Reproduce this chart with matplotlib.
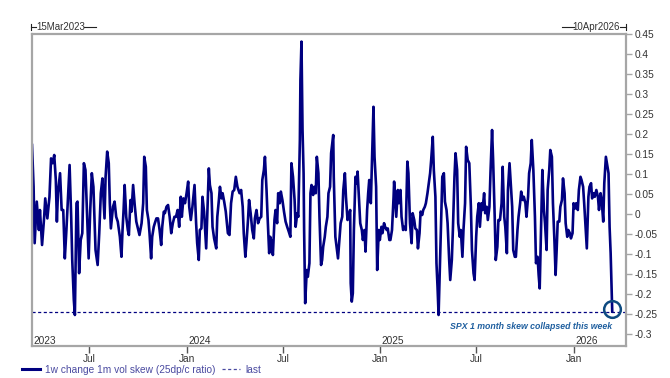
import numpy as np
import pandas as pd
import matplotlib
matplotlib.use("Agg")
import matplotlib.pyplot as plt
import matplotlib.dates as mdates
from matplotlib.lines import Line2D

plt.rcParams['font.family'] = ['Liberation Sans', 'DejaVu Sans']

# ---------------- data ----------------
start_date = "2023-03-15"
end_date = "2026-04-10"
day_offset = [
    0, 3, 5, 9, 13, 15, 19, 23, 25, 29, 33, 36, 39, 42, 45, 47, 49, 53, 56, 59, 62, 65, 68, 71, 74, 76, 79, 81, 84, 86,
    89, 92, 95, 98, 101, 105, 107, 110, 113, 116, 120, 124, 127, 130, 133,
    137, 139, 142, 145, 147, 149, 153, 156, 159, 162, 166, 169, 171, 173, 175, 178, 181, 183, 186, 188, 191, 194, 197,
    200, 203, 207, 210, 212, 215, 217, 220, 222, 225, 227, 230, 232, 235, 238, 241, 244, 246, 249, 251, 254, 257, 260,
    263, 266, 269,
    272, 275, 278, 281, 283, 286, 289, 292, 295, 297, 300, 303, 307, 310, 312, 315, 317, 320, 322, 325, 329, 331, 334,
    336, 339, 341, 344, 348, 350, 353, 355, 358, 360, 363, 366, 370, 373, 376, 379, 382, 385, 388, 392, 395, 398, 400,
    403, 405, 408,
    410, 413, 416, 419, 421, 424, 427, 430, 433, 435, 438, 440, 443, 445, 448, 450, 453, 455, 458, 460, 463, 465, 468,
    470, 473, 476, 479, 482, 485, 488, 490, 493, 496, 498, 501, 503, 506, 507, 509, 511, 513, 514, 516, 519, 521, 524,
    526, 528, 531, 533, 536, 538, 541, 543, 546,
    548, 550, 553, 555, 558, 560, 563, 565, 569, 570, 573, 576, 578, 581, 583, 586, 588, 591, 593, 596, 598, 601, 602,
    604, 606, 608, 611, 613, 615, 618, 620, 623, 625, 628, 630, 633, 635, 637, 640, 642, 645, 647, 650, 652, 655, 657,
    660, 662, 665, 667, 670, 672, 675, 677, 680, 683, 684,
    688, 691, 693, 696, 698, 701, 703, 706, 709, 711, 714, 717, 719, 722, 724, 727, 729, 732, 734, 737, 739, 742, 744,
    747, 749, 752, 754, 757, 759, 762, 764, 766, 768, 770, 773, 775, 778, 780, 783, 785, 788, 790, 793, 795, 798, 800,
    803, 805, 808, 810, 813, 815, 818, 820, 823,
    826, 829, 831, 834, 836, 839, 841, 844, 846, 849, 851, 854, 856, 859, 861, 864, 866, 869, 871, 874, 876, 879, 881,
    884, 887, 889, 892, 894, 897, 899, 902, 904, 907, 909, 912, 914, 917, 919, 922, 924, 927, 929, 932, 934, 937, 939,
    942, 944, 947, 950, 952, 955, 957, 959, 961,
    964, 967, 969, 972, 974, 977, 979, 982, 984, 987, 989, 991, 993, 996, 998, 1001, 1003, 1006, 1008, 1011, 1013,
    1016, 1018, 1021, 1023, 1026, 1028, 1031, 1033, 1036, 1038, 1041, 1043, 1046, 1048, 1051, 1053, 1056, 1058, 1061,
    1063, 1066, 1069, 1071, 1074, 1076, 1079, 1081, 1084, 1086, 1089, 1091, 1093, 1095, 1096,
]
skew_change = [
    0.1725, 0.068, -0.073, 0.031, -0.04, 0.01, -0.0775, -0.007, 0.039, -0.011, 0.043, 0.139, 0.127, 0.1475, 0.085,
    -0.019, 0.052, 0.102, 0.01, 0.01, -0.111, -0.04, 0.039, 0.1225, -0.007, -0.115, -0.215, -0.2525, 0.027, 0.031,
    -0.148, -0.065, -0.048, 0.127, 0.11, -0.04, -0.111, 0.01, 0.102, 0.068, -0.09, -0.1275, -0.048, 0.052, 0.089,
    -0.011, 0.093, 0.156, 0.127, 0.027, -0.036, 0.018, 0.031, -0.007, -0.019, -0.057, -0.107, -0.04, 0.01, 0.0725,
    -0.007, -0.04, -0.0525, 0.035, 0.006, 0.0725, 0.0225, -0.019, -0.036, -0.0525, -0.023, 0.027, 0.143, 0.118, 0.01,
    -0.015, -0.048, -0.111, -0.057, -0.032, -0.023, -0.011, -0.011, -0.04, -0.0775, -0.032, 0.006, 0.002, 0.018,
    0.0225, -0.007, -0.048, -0.023, -0.007,
    -0.007, 0.01, -0.032, 0.043, -0.007, 0.039, 0.027, 0.052, 0.081, 0.018, -0.015, 0.018, 0.0725, -0.023, -0.073,
    -0.115, -0.04, -0.036, 0.043, 0.006, -0.086, -0.007, 0.114, 0.0725, 0.052, -0.032, -0.061, -0.086, -0.007, 0.035,
    0.068, 0.039, 0.052, 0.031, 0.006, -0.048, -0.0525, 0.027, 0.056, 0.06, 0.093, 0.068, 0.052, 0.06, 0.018, -0.048,
    -0.107, -0.073, -0.015,
    0.035, 0.002, -0.04, -0.061, -0.011, 0.01, -0.023, -0.011, -0.007, 0.085, 0.11, 0.143, 0.06, -0.007, -0.098,
    -0.057, -0.073, -0.1025, -0.015, 0.01, -0.023, 0.052, 0.027, 0.056, 0.035, 0.006, -0.019, -0.032, -0.044, -0.057,
    0.127, 0.093, 0.035, -0.032, 0.002, -0.007, 0.185, 0.335, 0.431, 0.21, 0.102, -0.04, -0.223, -0.14, -0.157,
    -0.123, 0.052, 0.0725, 0.0475, 0.068, 0.052, 0.143, 0.102, -0.007, -0.1275,
    -0.115, -0.082, -0.057, -0.032, -0.007, 0.052, 0.068, 0.152, 0.1975, 0.093, -0.057, -0.09, -0.111, -0.057, -0.023,
    -0.007, 0.06, 0.102, 0.043, -0.015, -0.007, 0.01, -0.173, -0.219, -0.198, -0.04, 0.093, 0.077, 0.106, 0.027,
    -0.023, -0.04, -0.065, -0.04, -0.094, 0.01, 0.052, 0.085, 0.027, 0.127, 0.268, 0.143, 0.068, -0.14, -0.04, -0.065,
    -0.032, -0.048, -0.023, -0.032, -0.04, -0.036, -0.065, -0.065, -0.04, 0.043, 0.081,
    -0.007, 0.06, 0.027, 0.06, -0.007, -0.04, -0.032, -0.04, 0.131, 0.102, -0.023, -0.073, 0.002, -0.015, -0.036,
    -0.04, -0.086, -0.048, 0.006, -0.0025, 0.01, 0.018, 0.027, 0.052, 0.0725, 0.102, 0.135, 0.193, 0.11, 0.043,
    -0.123, -0.182, -0.2525, -0.157, -0.007, 0.093, 0.102, 0.031, 0.01, -0.023, -0.115, -0.165, -0.115, -0.04, 0.093,
    0.152, 0.11, -0.023, -0.057, -0.04, -0.107, -0.04, 0.027, 0.168, 0.135,
    0.127, 0.018, -0.09, -0.148, -0.165, -0.057, -0.007, 0.027, -0.032, 0.027, 0.01, 0.052, 0.002, 0.018, -0.015,
    0.018, 0.102, 0.21, 0.135, -0.007, -0.115, -0.082, -0.015, -0.015, 0.027, 0.118, -0.007, -0.032, -0.098, 0.06,
    0.127, 0.085, 0.018, -0.09, -0.107, -0.107, -0.04, -0.007, 0.027, 0.056, 0.035, 0.043, 0.027, -0.007, 0.043,
    0.102, 0.127, 0.185, 0.11, -0.007, -0.123, -0.107, -0.1525, -0.186, -0.065,
    0.11, 0.01, -0.023, -0.09, 0.06, 0.11, 0.16, 0.143, 0.027, -0.073, -0.1525, -0.09, -0.019, -0.019, 0.018, 0.035,
    0.089, 0.052, -0.023, -0.057, -0.04, -0.048, -0.061, -0.048, 0.027, 0.014, 0.027, 0.01, 0.06, 0.093, 0.085,
    0.068, 0.027, -0.04, -0.086, 0.043, 0.068, 0.077, 0.039, 0.052, 0.043, 0.06, 0.043, 0.01, 0.052, 0.035, -0.019,
    0.077, 0.143, 0.127, 0.102, -0.032, -0.098, -0.198, -0.244,
]
y_ticks = [0.45, 0.4, 0.35, 0.3, 0.25, 0.2, 0.15, 0.1, 0.05, 0, -0.05, -0.1, -0.15, -0.2, -0.25, -0.3]
y_limits = (-0.33, 0.45)
series_label = "1w change 1m vol skew (25dp/c ratio)"
last_label = "last"
note_text = "SPX 1 month skew collapsed this week"
start_label = "15Mar2023"
end_label = "10Apr2026"

# ---------------- figure ----------------
W, H = 670, 378
fig = plt.figure(figsize=(W / 100, H / 100), dpi=100)
L, R, T, B = 32, 626, 34, 346
ax = fig.add_axes([L / W, 1 - B / H, (R - L) / W, (B - T) / H])

navy = "#000080"
grey = "#a6a6a6"
text_col = "#333333"
legend_col = "#4a4aa0"

t0 = pd.Timestamp(start_date)
dates = t0 + pd.to_timedelta(day_offset, unit="D")
xnum = mdates.date2num(dates.to_pydatetime())
vals = np.array(skew_change)

ax.plot(xnum, vals, color=navy, lw=1.9, solid_joinstyle="round")
ax.xaxis_date()
last_val = vals[-1]
ax.axhline(last_val, color=navy, lw=0.9, ls=(0, (2.5, 2)))

# circle around last point
ax.plot([xnum[-1]], [last_val + 0.006], marker="o", ms=12, mfc="none", mec="#0d4a80", mew=1.8)

ax.set_xlim(mdates.date2num(t0.to_pydatetime()), mdates.date2num(pd.Timestamp(end_date).to_pydatetime()))
ax.set_ylim(*y_limits)

# y axis on right
ax.yaxis.tick_right()
ax.set_yticks(y_ticks)
ax.set_yticklabels([("%g" % v) if v != 0 else "0" for v in y_ticks])
ax.tick_params(axis="y", direction="out", length=4, width=1, color=grey, labelsize=7.3,
               labelcolor=text_col, pad=2.5)

# x axis ticks: Jan / Jul
tick_dates = pd.date_range("2023-07-01", "2026-01-01", freq="6MS")
ax.set_xticks(mdates.date2num(tick_dates.to_pydatetime()))
ax.set_xticklabels([d.strftime("%b") for d in tick_dates])
ax.tick_params(axis="x", direction="out", length=5, width=1, color="#555555", labelsize=7.3,
               labelcolor=text_col, pad=0.5)

for s in ax.spines.values():
    s.set_color(grey)
    s.set_linewidth(1.6)

# year labels inside the plot
for yr in [2023, 2024, 2025, 2026]:
    d = max(pd.Timestamp(f"{yr}-01-01"), t0)
    ax.annotate(str(yr), xy=(mdates.date2num(d.to_pydatetime()), 0), xycoords=ax.get_xaxis_transform(),
                xytext=(1, 0), textcoords="offset points", ha="left", va="bottom",
                fontsize=7.3, color=text_col)

# annotation text
ax.annotate(note_text, xy=(xnum[-1], y_limits[0]), xycoords="data",
            xytext=(0, 11), textcoords="offset points", ha="right", va="bottom",
            fontsize=6.3, color="#1f5f9f", fontstyle="italic", fontweight="bold")

# top range labels
def fx(px):
    return px / W

def fy(py):
    return 1 - py / H

ytop = 27
fig.add_artist(Line2D([fx(31), fx(31)], [fy(24), fy(30)], color="#222222", lw=0.8))
fig.add_artist(Line2D([fx(31), fx(36)], [fy(ytop), fy(ytop)], color="#222222", lw=0.8))
fig.text(fx(36.5), fy(ytop), start_label, ha="left", va="center", fontsize=7, color=text_col)
fig.add_artist(Line2D([fx(84), fx(96)], [fy(ytop), fy(ytop)], color="#222222", lw=0.8))

fig.add_artist(Line2D([fx(626), fx(626)], [fy(24), fy(30)], color="#222222", lw=0.8))
fig.add_artist(Line2D([fx(620), fx(626)], [fy(ytop), fy(ytop)], color="#222222", lw=0.8))
fig.text(fx(619.5), fy(ytop), end_label, ha="right", va="center", fontsize=7, color=text_col)
fig.add_artist(Line2D([fx(562), fx(574)], [fy(ytop), fy(ytop)], color="#222222", lw=0.8))

# legend
handles = [Line2D([], [], color=navy, lw=2.2),
           Line2D([], [], color=legend_col, lw=0.9, ls=(0, (2.5, 2)))]
leg = fig.legend(handles, [series_label, last_label], loc="lower left",
                 bbox_to_anchor=(fx(22), 1 - 375 / H), ncol=2, frameon=False,
                 fontsize=7.3, handlelength=1.8, handletextpad=0.5, columnspacing=0.6,
                 borderaxespad=0, borderpad=0)
for t in leg.get_texts():
    t.set_color(legend_col)

fig.savefig("out.png", dpi=100)
